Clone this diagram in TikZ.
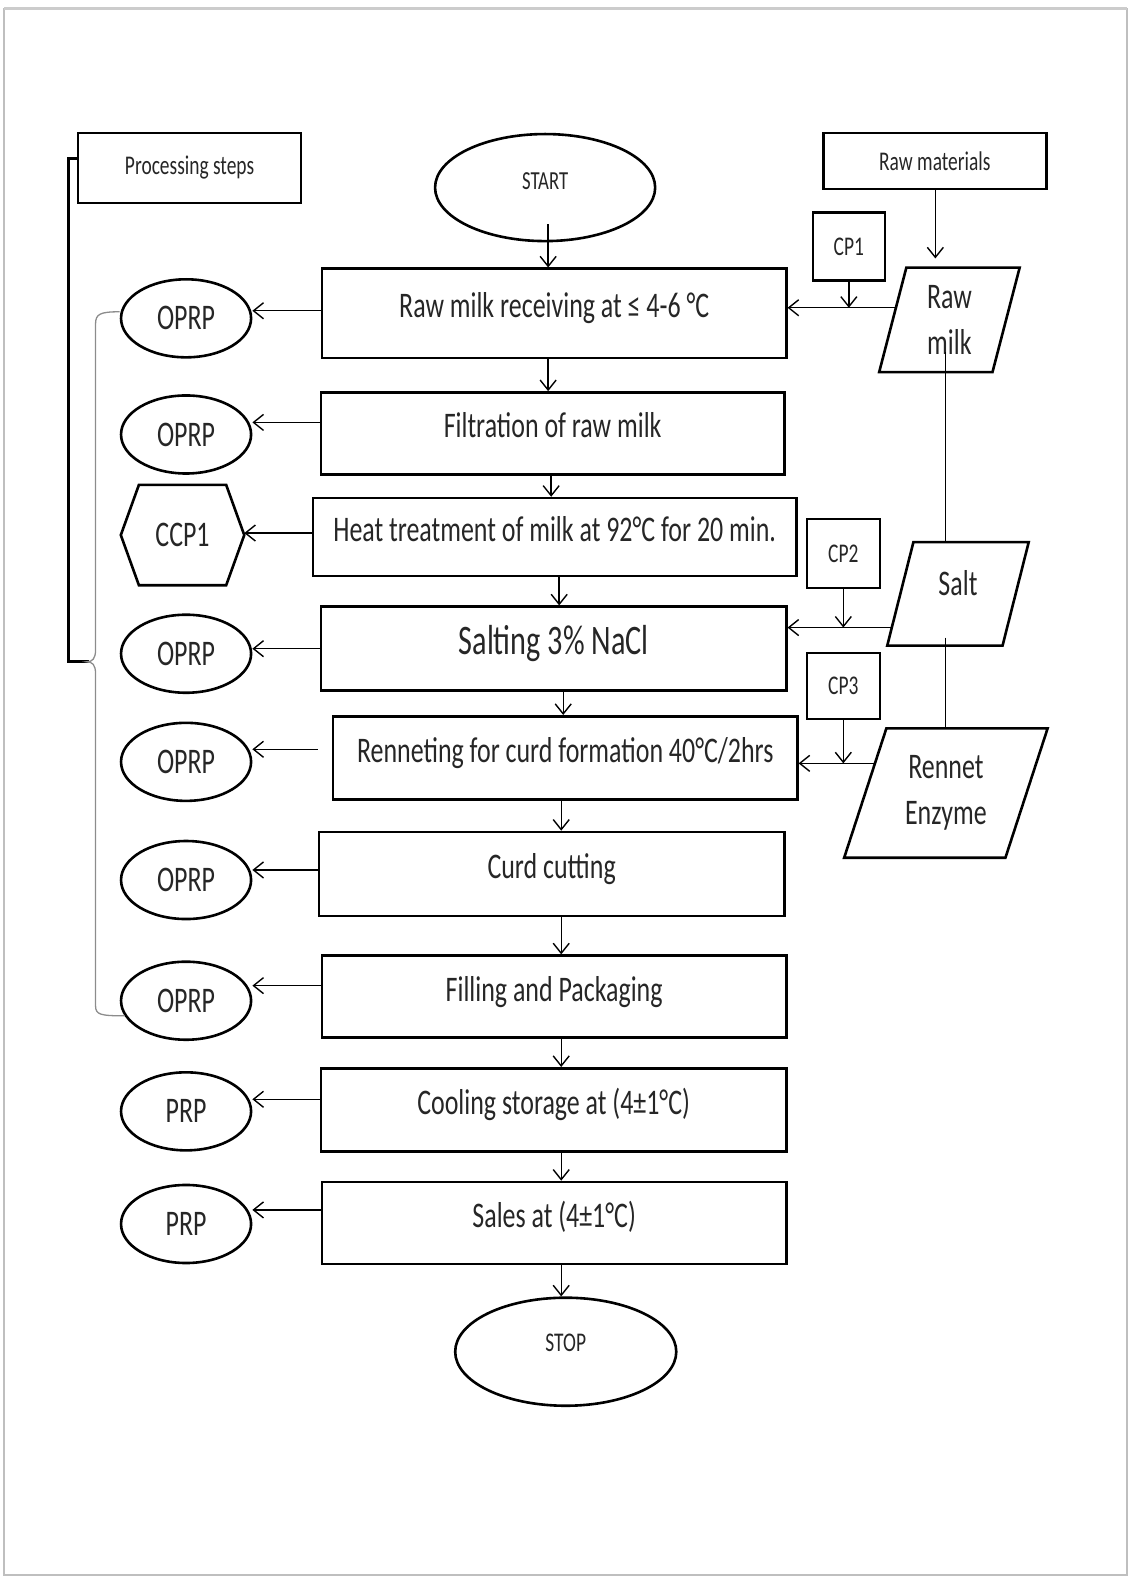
\documentclass[tikz,border=0pt]{standalone}
\usepackage{fontspec}
\setmainfont{Carlito}[FakeStretch=0.72]
\usetikzlibrary{arrows.meta,shapes.geometric,calc}
\begin{document}
\begin{tikzpicture}[x=1.0053pt,y=-1.0053pt,
  every node/.style={text=black!85},
  proc/.style={rectangle, draw=black, line width=2.6pt, inner sep=0pt, text height=25pt, text depth=16pt, font=\fontsize{36}{40}\selectfont},
  oval/.style={ellipse, draw=black, line width=2.6pt, inner sep=0pt, minimum width=130pt, minimum height=78pt, font=\fontsize{36}{40}\selectfont},
  smallbox/.style={rectangle, draw=black, line width=2.6pt, inner sep=0pt, font=\fontsize{27}{30}\selectfont},
  term/.style={ellipse, draw=black, line width=2.6pt, inner sep=0pt, font=\fontsize{26}{30}\selectfont},
  plain/.style={rectangle, inner sep=0pt, align=center, font=\fontsize{36}{46}\selectfont},
  shapeline/.style={line width=2.6pt, line join=miter},
  arr/.style={line width=1.4pt, -{Straight Barb[length=10pt,width=16pt,line width=1.4pt]}},
  link/.style={line width=1.4pt},
  bracey/.style={line width=1.3pt, black!45}]
\useasboundingbox (0,0) rectangle (1124,1568);
% page frame
\draw[black!25, line width=2pt] (4,9) rectangle (1121,1566);
\draw[black!20, line width=3pt] (4,8) -- (1121,8);

% header boxes
\node[smallbox, minimum width=223pt, minimum height=70pt] (ps) at (188.5,167) {Processing steps};
\node[smallbox, minimum width=223pt, minimum height=56pt] (rawmat) at (929.5,160) {Raw materials};
\node[term, minimum width=220pt, minimum height=107pt, text height=18pt, text depth=14pt] (start) at (542,186.5) {START};

% main process boxes
\node[proc, minimum width=464pt, minimum height=89pt] (b1) at (551,311.5) {Raw milk receiving at ≤ 4-6 °C};
\node[proc, minimum width=463pt, minimum height=82pt] (b2) at (549.5,431) {Filtration of raw milk};
\node[proc, minimum width=483pt, minimum height=78pt] (b3) at (551.5,534) {Heat treatment of milk at 92°C for 20 min.};
\node[proc, minimum width=465pt, minimum height=84pt, font=\fontsize{42}{46}\selectfont, text height=29pt, text depth=18pt] (b4) at (550.5,645) {Salting 3\% NaCl};
\node[proc, minimum width=464pt, minimum height=83pt] (b5) at (562,753.5) {Renneting for curd formation 40°C/2hrs};
\node[proc, minimum width=465pt, minimum height=84pt] (b6) at (548.5,869) {Curd cutting};
\node[proc, minimum width=464pt, minimum height=82pt] (b7) at (551,991) {Filling and Packaging};
\node[proc, minimum width=465pt, minimum height=83pt] (b8) at (550.5,1103.5) {Cooling storage at (4±1°C)};
\node[proc, minimum width=464pt, minimum height=82pt] (b9) at (551,1216) {Sales at (4±1°C)};
\node[term, minimum width=221pt, minimum height=108pt, font=\fontsize{27}{30}\selectfont, text height=18pt, text depth=18pt] (stop) at (562.5,1344) {STOP};

% left hazard markers
\node[oval] (o1) at (185,316.5) {OPRP};
\node[oval] (o2) at (185,432) {OPRP};
\node[plain, minimum width=123pt, minimum height=100pt] (ccp) at (181.5,532) {CCP1};
\draw[shapeline] (ccp.west) -- ($(ccp.north west)+(18,0)$) -- ($(ccp.north east)+(-18,0)$) -- (ccp.east) -- ($(ccp.south east)+(-18,0)$) -- ($(ccp.south west)+(18,0)$) -- cycle;
\node[oval] (o4) at (185,650) {OPRP};
\node[oval] (o5) at (185,757.5) {OPRP};
\node[oval] (o6) at (185,875) {OPRP};
\node[oval] (o7) at (185,995) {OPRP};
\node[oval] (p8) at (185,1105) {PRP};
\node[oval] (p9) at (185,1217) {PRP};

% raw materials (parallelograms)
\node[plain, minimum width=140pt, minimum height=104pt] (rawmilk) at (944,318) {Raw\\milk};
\draw[shapeline] ($(rawmilk.north west)+(27,0)$) -- (rawmilk.north east) -- ($(rawmilk.south east)+(-27,0)$) -- (rawmilk.south west) -- cycle;
\node[plain, minimum width=141pt, minimum height=103pt, text height=23pt, text depth=20pt] (salt) at (952.5,590.5) {Salt};
\draw[shapeline] ($(salt.north west)+(26,0)$) -- (salt.north east) -- ($(salt.south east)+(-26,0)$) -- (salt.south west) -- cycle;
\node[plain, minimum width=203pt, minimum height=129pt] (rennet) at (940.5,788.5) {Rennet\\Enzyme};
\draw[shapeline] ($(rennet.north west)+(42,0)$) -- (rennet.north east) -- ($(rennet.south east)+(-42,0)$) -- (rennet.south west) -- cycle;

% control points
\node[smallbox, minimum width=72pt, minimum height=68pt] (cp1) at (844,245) {CP1};
\node[smallbox, minimum width=73pt, minimum height=69pt] (cp2) at (838.5,550.5) {CP2};
\node[smallbox, minimum width=73pt, minimum height=66pt] (cp3) at (838.5,682) {CP3};

% main flow
\draw[arr] ($(start.south)+(3,-18)$) -- (545,0 |- b1.north);
\draw[arr] (545,0 |- b1.south) -- (545,0 |- b2.north);
\draw[arr] (548,0 |- b2.south) -- (548,0 |- b3.north);
\draw[arr] (556,0 |- b3.south) -- (556,0 |- b4.north);
\draw[arr] (560,0 |- b4.south) -- (560,0 |- b5.north);
\draw[arr] (558,0 |- b5.south) -- (558,0 |- b6.north);
\draw[arr] (558,0 |- b6.south) -- (558,0 |- b7.north);
\draw[arr] (558,0 |- b7.south) -- (558,0 |- b8.north);
\draw[arr] (558,0 |- b8.south) -- (558,0 |- b9.north);
\draw[arr] (558,0 |- b9.south) -- (558,0 |- stop.north);

% to hazard markers
\draw[arr] (b1.west |- 0,309) -- (o1.east |- 0,309);
\draw[arr] (b2.west |- 0,420) -- (o2.east |- 0,420);
\draw[arr] (b3.west |- 0,530) -- (ccp.east |- 0,530);
\draw[arr] (b4.west |- 0,645) -- (o4.east |- 0,645);
\coordinate (b5out) at (316,745);
\draw[arr] (b5out) -- (o5.east |- b5out);
\draw[arr] (b6.west |- 0,865) -- (o6.east |- 0,865);
\draw[arr] (b7.west |- 0,980) -- (o7.east |- 0,980);
\draw[arr] (b8.west |- 0,1093) -- (p8.east |- 0,1093);
\draw[arr] (b9.west |- 0,1203) -- (p9.east |- 0,1203);

% raw materials inputs
\coordinate (rmTip) at (930,257);
\draw[arr] (rawmat.south -| rmTip) -- (rmTip);
\coordinate (rmL) at (890.6,306);
\draw[arr] (rmL) -- (b1.east |- rmL);
\draw[arr] (cp1.south) -- (cp1.south |- rmL);
\coordinate (saltL) at (886.5,624);
\draw[arr] (saltL) -- (b4.east |- saltL);
\draw[arr] (cp2.south) -- (cp2.south |- saltL);
\coordinate (renL) at (869.6,759);
\draw[arr] (renL) -- (b5.east |- renL);
\draw[arr] (cp3.south) -- (cp3.south |- renL);
\coordinate (rmV) at (940,350);
\draw[link] (rmV) -- (rmV |- salt.north);
\coordinate (saltV) at (940,634);
\draw[link] (saltV) -- (saltV |- rennet.north);

% bracket and brace on the left
\draw[line width=3pt, line join=miter] (ps.west |- 0,158) -- (68,158) -- (68,658) -- (88,658);
\draw[bracey] (o1.west |- 0,310) .. controls (100,310) and (95,312) .. (95,322) -- (95,646)
  .. controls (95,655) and (92,658) .. (86,658) .. controls (92,658) and (95,661) .. (95,670)
  -- (95,1000) .. controls (95,1009) and (100,1010) .. (124,1010);
\end{tikzpicture}
\end{document}
